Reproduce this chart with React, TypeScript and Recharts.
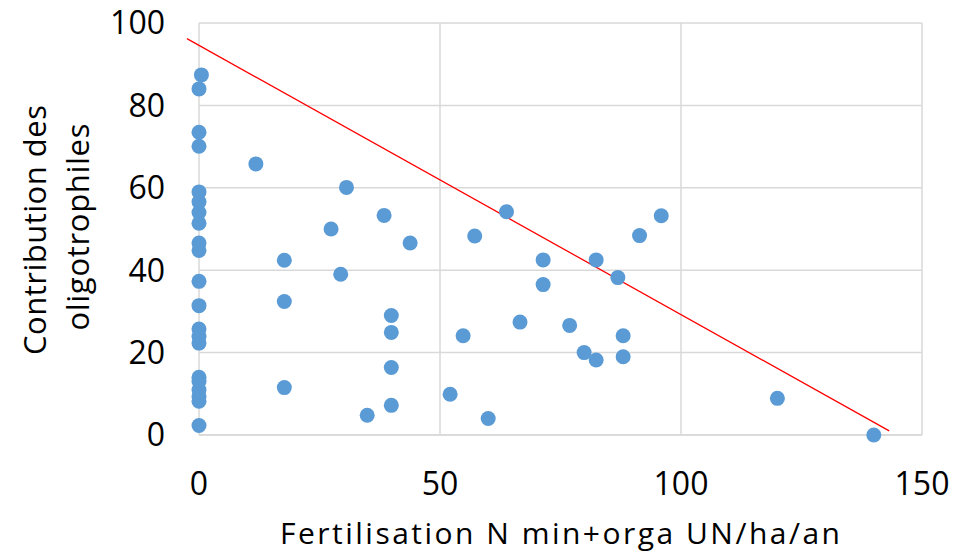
import { ScatterChart, Scatter, XAxis, YAxis, CartesianGrid, ReferenceLine } from 'recharts';

// Fertilisation (x) and contribution des oligotrophiles (y)
const fertilisation = [
  0.5, 0, 0, 0, 0, 0, 0, 0, 0, 0, 0, 0, 0, 0, 0, 0, 0, 0, 0, 0, 0,
  11.8, 17.7, 17.7, 17.7, 30.6, 38.4, 27.4, 43.8, 29.4, 39.9, 39.9, 39.9, 39.9, 34.9,
  52.1, 60.0, 57.2, 63.8, 54.8, 66.6, 95.9, 91.4, 71.4, 82.4, 86.9, 71.4, 76.9, 88.0,
  79.9, 82.4, 88.0, 120.0, 140.0,
];
const contribution = [
  87.4, 84.0, 73.5, 70.1, 59.0, 56.6, 54.0, 51.4, 46.6, 44.8, 37.3, 31.4, 25.7, 23.9, 22.3, 14.0, 13.0, 11.0, 9.3, 8.2, 2.3,
  65.8, 42.4, 32.4, 11.5, 60.1, 53.3, 50.0, 46.6, 39.0, 29.0, 24.9, 16.4, 7.2, 4.8,
  9.9, 4.0, 48.3, 54.2, 24.1, 27.4, 53.2, 48.4, 42.5, 42.5, 38.2, 36.5, 26.6, 24.1,
  20.0, 18.2, 19.0, 8.9, 0,
];

const xTicks = [0, 50, 100, 150];
const yTicks = [0, 20, 40, 60, 80, 100];

// linear trend line ends
const trendX = [-2.5, 143.2];
const trendY = [96.2, 1.0];

const points = fertilisation.map((x, i) => ({ x, y: contribution[i] }));

const FONT = '"Open Sans", Lato, sans-serif';

const Dot = (props: any) => {
  const { cx, cy } = props;
  return <circle cx={cx} cy={cy} r={7.5} fill="#5B9BD5" />;
};

const YTitle = () => {
  const cy = 230;
  return (
    <g fontFamily={FONT} fontSize={31} fill="#000">
      <text x={46} y={cy} transform={`rotate(-90 46 ${cy})`} textAnchor="middle" textLength={250}>
        Contribution des
      </text>
      <text x={89} y={cy - 3} transform={`rotate(-90 89 ${cy - 3})`} textAnchor="middle" textLength={207}>
        oligotrophiles
      </text>
    </g>
  );
};

const XTitle = () => {
  return (
    <text x={560} y={544} textAnchor="middle" fontFamily={FONT} fontSize={30} fill="#000" textLength={560}>
      Fertilisation N min+orga UN/ha/an
    </text>
  );
};

export default function App() {
  return (
    <div style={{ width: 957, height: 554, background: '#fff' }}>
      <style>{`body{margin:0}`}</style>
      <ScatterChart
        width={957}
        height={554}
        margin={{ top: 23, right: 35, left: 0, bottom: 0 }}
        style={{ fontFamily: FONT }}
      >
        <CartesianGrid stroke="#d9d9d9" strokeWidth={1.5} />
        <XAxis
          type="number"
          dataKey="x"
          domain={[0, 150]}
          ticks={xTicks}
          height={119}
          axisLine={{ stroke: '#d9d9d9', strokeWidth: 1.5 }}
          tickLine={false}
          tickSize={0}
          tickMargin={37}
          tick={{ fill: '#000', fontSize: 32, fontFamily: FONT }}
          label={{ content: <XTitle /> }}
        />
        <YAxis
          type="number"
          dataKey="y"
          domain={[0, 100]}
          ticks={yTicks}
          width={199}
          axisLine={false}
          tickLine={false}
          tickSize={0}
          tickMargin={34}
          tick={{ fill: '#000', fontSize: 32, fontFamily: FONT }}
          label={{ content: <YTitle /> }}
        />
        <Scatter data={points} shape={<Dot />} isAnimationActive={false} />
        <ReferenceLine
          segment={[
            { x: trendX[0], y: trendY[0] },
            { x: trendX[1], y: trendY[1] },
          ]}
          stroke="#ff0000"
          strokeWidth={1.3}
          ifOverflow="visible"
        />
      </ScatterChart>
    </div>
  );
}
